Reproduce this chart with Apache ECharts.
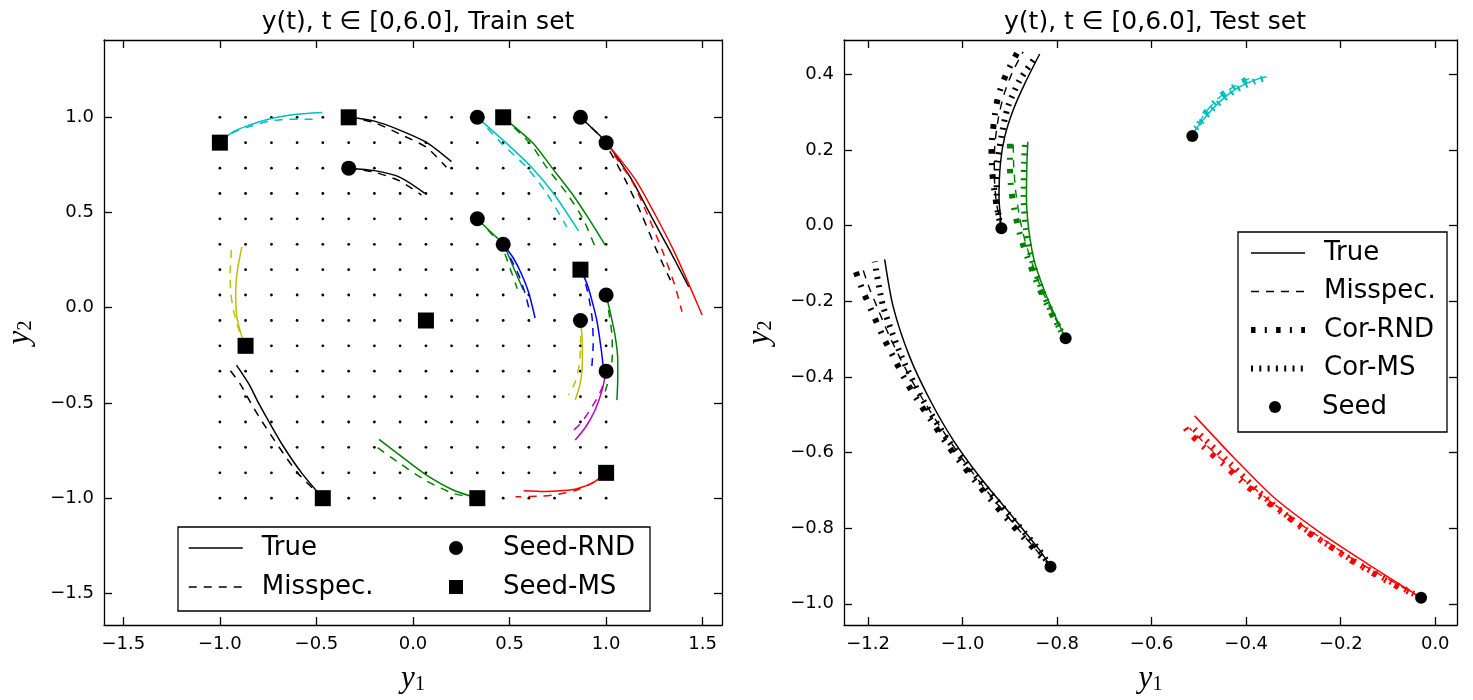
<!DOCTYPE html>
<html><head><meta charset="utf-8">
<script src="https://cdn.jsdelivr.net/npm/echarts@6/dist/echarts.min.js"></script>
<style>html,body{margin:0;padding:0;background:#fff}#c{width:1473px;height:700px}</style>
</head><body><div id="c"></div>
<script>
// ---------------- DATA ----------------
const titles = ['y(t), t \u2208 [0,6.0], Train set', 'y(t), t \u2208 [0,6.0], Test set'];
const trainXTicks = [-1.5, -1.0, -0.5, 0.0, 0.5, 1.0, 1.5];
const trainYTicks = [-1.5, -1.0, -0.5, 0.0, 0.5, 1.0];
const testXTicks = [-1.2, -1.0, -0.8, -0.6, -0.4, -0.2, 0.0];
const testYTicks = [-1.0, -0.8, -0.6, -0.4, -0.2, 0.0, 0.2, 0.4];

// training grid (16 x 16)
const gridVals = [-1.0, -0.867, -0.733, -0.6, -0.467, -0.333, -0.2, -0.067, 0.067, 0.2, 0.333, 0.467, 0.6, 0.733, 0.867, 1.0];

// training seeds
const seedRND = [[0.333,1.0],[0.867,1.0],[1.0,0.867],[-0.333,0.733],[0.333,0.467],[0.467,0.333],[1.0,0.067],[0.867,-0.067],[1.0,-0.333]];
const seedMS = [[-1.0,0.867],[-0.333,1.0],[0.467,1.0],[0.867,0.2],[0.067,-0.067],[-0.867,-0.2],[-0.467,-1.0],[0.333,-1.0],[1.0,-0.867]];

// training trajectories: true (solid) / misspecified (dashed)
const trA_true = [[-1.0,0.867],[-0.93,0.925],[-0.85,0.958],[-0.75,0.99],[-0.65,1.01],[-0.55,1.02],[-0.47,1.025]];
const trA_mis  = [[-1.0,0.867],[-0.93,0.92],[-0.85,0.95],[-0.75,0.978],[-0.65,0.99],[-0.52,0.99]];
const trB_true = [[-0.333,1.0],[-0.2,0.98],[-0.069,0.933],[0.07,0.868],[0.199,0.767]];
const trB_mis  = [[-0.333,1.0],[-0.2,0.972],[-0.069,0.912],[0.07,0.842],[0.173,0.738]];
const trC_true = [[-0.333,0.733],[-0.2,0.72],[-0.069,0.686],[0.061,0.601]];
const trC_mis  = [[-0.333,0.733],[-0.2,0.712],[-0.069,0.666],[0.044,0.592]];
const trD_true = [[0.333,1.0],[0.485,0.863],[0.615,0.737],[0.727,0.601],[0.857,0.404]];
const trD_mis  = [[0.333,1.0],[0.459,0.863],[0.589,0.737],[0.692,0.601],[0.796,0.425]];
const trE_true = [[0.467,1.0],[0.623,0.863],[0.718,0.737],[0.822,0.601],[0.909,0.469],[0.995,0.329]];
const trE_mis  = [[0.467,1.0],[0.606,0.863],[0.692,0.737],[0.796,0.601],[0.879,0.469],[0.943,0.32]];
const trF_true = [[0.867,1.0],[0.93,0.94],[1.0,0.87],[1.07,0.77],[1.14,0.66],[1.23,0.487],[1.33,0.3],[1.428,0.11]];
const trF_mis  = [[0.867,1.0],[0.95,0.92],[1.02,0.82],[1.1,0.67],[1.185,0.487],[1.262,0.3],[1.333,0.145]];
const trG_true = [[1.0,0.867],[1.08,0.77],[1.16,0.66],[1.255,0.487],[1.35,0.3],[1.43,0.12],[1.497,-0.038]];
const trG_mis  = [[1.0,0.867],[1.06,0.775],[1.135,0.664],[1.215,0.487],[1.29,0.303],[1.355,0.12],[1.393,-0.021]];
const trH_true = [[0.333,0.467],[0.4,0.4],[0.467,0.333],[0.519,0.215],[0.571,0.093]];
const trH_mis  = [[0.333,0.467],[0.4,0.395],[0.46,0.32],[0.5,0.215],[0.54,0.1]];
const trI_true = [[0.467,0.333],[0.52,0.26],[0.56,0.181],[0.6,0.076],[0.632,-0.054]];
const trI_mis  = [[0.467,0.333],[0.51,0.25],[0.548,0.17],[0.582,0.07],[0.606,-0.028]];
const trJ_true = [[0.867,0.2],[0.9,0.128],[0.926,0.04],[0.952,-0.068],[0.975,-0.222],[0.987,-0.33]];
const trJ_mis  = [[0.867,0.2],[0.895,0.12],[0.915,0.03],[0.929,-0.068],[0.933,-0.19],[0.926,-0.31]];
const trK_true = [[1.0,0.067],[1.025,-0.04],[1.047,-0.15],[1.06,-0.27],[1.06,-0.38],[1.056,-0.485]];
const trK_mis  = [[1.0,0.067],[1.015,-0.03],[1.03,-0.14],[1.032,-0.25],[1.02,-0.35],[0.995,-0.44]];
const trL_true = [[0.867,-0.067],[0.875,-0.15],[0.877,-0.29],[0.865,-0.4],[0.84,-0.485]];
const trL_mis  = [[0.867,-0.067],[0.868,-0.15],[0.862,-0.29],[0.84,-0.39],[0.805,-0.458]];
const trM_true = [[1.0,-0.333],[0.98,-0.43],[0.943,-0.537],[0.895,-0.625],[0.84,-0.695]];
const trM_mis  = [[1.0,-0.333],[0.975,-0.43],[0.917,-0.537],[0.865,-0.61],[0.805,-0.668]];
const trN_true = [[-0.867,-0.2],[-0.89,-0.14],[-0.912,-0.047],[-0.918,0.076],[-0.909,0.198],[-0.886,0.32]];
const trN_mis  = [[-0.867,-0.2],[-0.9,-0.12],[-0.928,-0.02],[-0.943,0.076],[-0.947,0.18],[-0.94,0.307]];
const trO_true = [[-0.467,-1.0],[-0.575,-0.87],[-0.67,-0.73],[-0.745,-0.6],[-0.8,-0.5],[-0.85,-0.4],[-0.914,-0.301]];
const trO_mis  = [[-0.467,-1.0],[-0.595,-0.87],[-0.695,-0.73],[-0.78,-0.6],[-0.84,-0.5],[-0.895,-0.4],[-0.955,-0.318]];
const trP_true = [[0.333,-1.0],[0.208,-0.957],[0.07,-0.879],[-0.069,-0.774],[-0.176,-0.691]];
const trP_mis  = [[0.333,-1.0],[0.208,-0.975],[0.07,-0.909],[-0.069,-0.817],[-0.19,-0.73]];
const trQ_true = [[1.0,-0.867],[0.93,-0.92],[0.85,-0.95],[0.78,-0.96],[0.68,-0.965],[0.573,-0.961]];
const trQ_mis  = [[1.0,-0.867],[0.92,-0.925],[0.84,-0.96],[0.75,-0.98],[0.65,-0.99],[0.531,-0.993]];

// test seeds
const testSeeds = [[-0.918,-0.007],[-0.782,-0.298],[-0.814,-0.902],[-0.514,0.237],[-0.03,-0.984]];

// test trajectories: true / misspec / corrected-RND / corrected-MS
const t1_true = [[-0.918,-0.007],[-0.923,0.077],[-0.92,0.165],[-0.911,0.235],[-0.893,0.306],[-0.868,0.377],[-0.837,0.454]];
const t1_mis  = [[-0.918,-0.007],[-0.929,0.065],[-0.933,0.14],[-0.932,0.21],[-0.925,0.28],[-0.913,0.345],[-0.895,0.405],[-0.872,0.46]];
const t1_rnd  = [[-0.918,-0.007],[-0.93,0.068],[-0.937,0.137],[-0.939,0.205],[-0.934,0.272],[-0.925,0.341],[-0.907,0.403],[-0.881,0.465]];
const t1_ms   = [[-0.918,-0.007],[-0.928,0.059],[-0.928,0.147],[-0.918,0.235],[-0.904,0.315],[-0.879,0.385],[-0.844,0.449]];

const t2_true = [[-0.782,-0.298],[-0.794,-0.267],[-0.822,-0.188],[-0.847,-0.1],[-0.86,-0.011],[-0.865,0.077],[-0.864,0.165],[-0.862,0.222]];
const t2_mis  = [[-0.782,-0.298],[-0.81,-0.23],[-0.833,-0.168],[-0.851,-0.107],[-0.868,-0.04],[-0.88,0.026],[-0.888,0.094],[-0.892,0.161],[-0.893,0.225]];
const t2_rnd  = [[-0.782,-0.298],[-0.813,-0.23],[-0.837,-0.168],[-0.856,-0.107],[-0.875,-0.04],[-0.888,0.026],[-0.897,0.094],[-0.9,0.161],[-0.9,0.231]];
const t2_ms   = [[-0.782,-0.298],[-0.798,-0.265],[-0.827,-0.186],[-0.852,-0.098],[-0.866,-0.01],[-0.871,0.077],[-0.87,0.165],[-0.868,0.222]];

const t3_true = [[-0.814,-0.902],[-0.837,-0.858],[-0.9,-0.761],[-0.964,-0.664],[-1.02,-0.567],[-1.069,-0.461],[-1.112,-0.347],[-1.147,-0.214],[-1.165,-0.089]];
const t3_mis  = [[-0.814,-0.902],[-0.853,-0.845],[-0.888,-0.794],[-0.922,-0.743],[-0.956,-0.69],[-0.988,-0.638],[-1.02,-0.582],[-1.05,-0.527],[-1.079,-0.47],[-1.106,-0.413],[-1.132,-0.351],[-1.156,-0.289],[-1.177,-0.227],[-1.197,-0.166],[-1.215,-0.101]];
const t3_rnd  = [[-0.814,-0.902],[-0.856,-0.845],[-0.893,-0.794],[-0.928,-0.743],[-0.964,-0.69],[-0.997,-0.638],[-1.031,-0.582],[-1.06,-0.527],[-1.091,-0.47],[-1.119,-0.413],[-1.145,-0.351],[-1.17,-0.289],[-1.192,-0.227],[-1.213,-0.166],[-1.232,-0.101]];
const t3_ms   = [[-0.814,-0.902],[-0.838,-0.858],[-0.904,-0.761],[-0.971,-0.664],[-1.031,-0.567],[-1.084,-0.461],[-1.129,-0.347],[-1.168,-0.214],[-1.186,-0.095]];

const t4_true = [[-0.514,0.237],[-0.505,0.258],[-0.463,0.319],[-0.42,0.363],[-0.378,0.387],[-0.357,0.394]];
const t4_mis  = [[-0.514,0.237],[-0.486,0.3],[-0.447,0.35],[-0.405,0.383],[-0.385,0.393]];
const t4_rnd  = [[-0.514,0.237],[-0.484,0.302],[-0.445,0.352],[-0.399,0.387],[-0.385,0.396]];
const t4_ms   = [[-0.514,0.237],[-0.507,0.256],[-0.466,0.315],[-0.423,0.358],[-0.38,0.383],[-0.36,0.39]];

const t5_true = [[-0.03,-0.984],[-0.039,-0.977],[-0.145,-0.893],[-0.251,-0.805],[-0.343,-0.717],[-0.428,-0.611],[-0.509,-0.503]];
const t5_mis  = [[-0.03,-0.984],[-0.085,-0.945],[-0.135,-0.91],[-0.183,-0.875],[-0.228,-0.837],[-0.273,-0.8],[-0.316,-0.76],[-0.36,-0.718],[-0.402,-0.675],[-0.442,-0.63],[-0.482,-0.583],[-0.52,-0.535]];
const t5_rnd  = [[-0.03,-0.984],[-0.085,-0.951],[-0.133,-0.918],[-0.181,-0.883],[-0.226,-0.845],[-0.271,-0.81],[-0.314,-0.768],[-0.359,-0.728],[-0.401,-0.686],[-0.441,-0.639],[-0.483,-0.593],[-0.523,-0.545],[-0.53,-0.532]];
const t5_ms   = [[-0.03,-0.984],[-0.152,-0.902],[-0.258,-0.818],[-0.35,-0.73],[-0.434,-0.629],[-0.519,-0.527]];

// ---------------- STYLES ----------------
const C = {k:'#000000', c:'#00bfbf', g:'#008000', r:'#ff0000', b:'#0000ff', m:'#bf00bf', y:'#bfbf00'};
const trainSet = [
  [trA_true, trA_mis, C.c], [trB_true, trB_mis, C.k], [trC_true, trC_mis, C.k],
  [trD_true, trD_mis, C.c], [trE_true, trE_mis, C.g], [trF_true, trF_mis, C.k],
  [trG_true, trG_mis, C.r], [trH_true, trH_mis, C.g], [trI_true, trI_mis, C.b],
  [trJ_true, trJ_mis, C.b], [trK_true, trK_mis, C.g], [trL_true, trL_mis, C.y],
  [trM_true, trM_mis, C.m], [trN_true, trN_mis, C.y], [trO_true, trO_mis, C.k],
  [trP_true, trP_mis, C.g], [trQ_true, trQ_mis, C.r]
];
const testSet = [
  [t1_true, t1_mis, t1_rnd, t1_ms, C.k], [t2_true, t2_mis, t2_rnd, t2_ms, C.g],
  [t3_true, t3_mis, t3_rnd, t3_ms, C.k], [t4_true, t4_mis, t4_rnd, t4_ms, C.c],
  [t5_true, t5_mis, t5_rnd, t5_ms, C.r]
];
const DASH = [8, 7];
const RNDDASH = [4.5, 9.3, 2, 9.3];
const MSDASH = [2, 6.3];
const FONT = 'DejaVu Sans';
const CLEAR = 'rgba(0,0,0,0)';

function lineSeries(name, data, color, width, type, ax, z) {
  return {
    name: name, type: 'line', data: data, xAxisIndex: ax, yAxisIndex: ax,
    symbol: 'none', showSymbol: false, smooth: 0.25, silent: true, z: z || 2,
    lineStyle: {color: color, width: width, type: type, cap: 'butt', join: 'round'},
    itemStyle: {color: CLEAR}, emphasis: {disabled: true}
  };
}

const series = [];
// grid dots
const gridPts = [];
gridVals.forEach(function (gx) { gridVals.forEach(function (gy) { gridPts.push([gx, gy]); }); });
series.push({type: 'scatter', name: 'grid', data: gridPts, xAxisIndex: 0, yAxisIndex: 0,
  symbol: 'circle', symbolSize: 2.8, itemStyle: {color: '#000', opacity: 1}, silent: true, z: 1});

trainSet.forEach(function (t, i) {
  series.push(lineSeries('tr_true_' + i, t[0], t[2], 1.5, 'solid', 0, 2));
  series.push(lineSeries('tr_mis_' + i, t[1], t[2], 1.5, DASH, 0, 2));
});
testSet.forEach(function (t, i) {
  series.push(lineSeries('te_true_' + i, t[0], t[4], 1.5, 'solid', 1, 2));
  series.push(lineSeries('te_mis_' + i, t[1], t[4], 1.4, DASH, 1, 2));
  series.push(lineSeries('te_rnd_' + i, t[2], t[4], 6, RNDDASH, 1, 2));
  series.push(lineSeries('te_ms_' + i, t[3], t[4], 6, MSDASH, 1, 2));
});

// legend dummies (line samples only)
series.push(lineSeries('True', [], '#000', 1.5, 'solid', 0, 0));
series.push(lineSeries('Misspec.', [], '#000', 1.5, DASH, 0, 0));
series.push(lineSeries('Cor-RND', [], '#000', 6, RNDDASH, 1, 0));
series.push(lineSeries('Cor-MS', [], '#000', 6, MSDASH, 1, 0));

// seeds
series.push({type: 'scatter', name: 'Seed-RND', data: seedRND, xAxisIndex: 0, yAxisIndex: 0,
  symbol: 'circle', symbolSize: 15, itemStyle: {color: '#000', opacity: 1}, silent: true, z: 5});
series.push({type: 'scatter', name: 'Seed-MS', data: seedMS, xAxisIndex: 0, yAxisIndex: 0,
  symbol: 'rect', symbolSize: 16, itemStyle: {color: '#000', opacity: 1}, silent: true, z: 5});
series.push({type: 'scatter', name: 'Seed', data: testSeeds, xAxisIndex: 1, yAxisIndex: 1,
  symbol: 'circle', symbolSize: 12, itemStyle: {color: '#000', opacity: 1}, silent: true, z: 5});

function fmt(v) {
  const s = Math.abs(v).toFixed(1);
  return (v < -1e-9 ? '\u2212' : '') + s;
}
const AXC = {color: '#000', width: 1.3};
function mkAxis(grid, pos, min, max, ticks, showLabel, name, nameGap) {
  const a = {
    type: 'value', gridIndex: grid, position: pos, min: min, max: max,
    axisLine: {show: true, onZero: false, lineStyle: AXC},
    axisTick: {show: true, inside: true, length: 8, customValues: ticks, lineStyle: AXC},
    axisLabel: {show: showLabel, customValues: ticks, formatter: fmt, fontSize: 18,
      fontFamily: FONT, color: '#000', margin: 10},
    splitLine: {show: false}
  };
  if (name) {
    a.name = name;
    a.nameLocation = 'middle';
    a.nameGap = nameGap;
    a.nameTextStyle = {rich: {
      v: {fontFamily: 'Liberation Serif', fontStyle: 'italic', fontSize: 31, color: '#000'},
      s: {fontFamily: 'Liberation Serif', fontSize: 20, color: '#000', padding: [12, 0, 0, 0]}
    }};
  }
  return a;
}

function legendText(padLeft) {
  return {fontFamily: FONT, fontSize: 26, color: '#000', lineHeight: 26, padding: [0, 0, 0, padLeft]};
}
const squareIcon = 'path://M0,0L10,0L10,10L0,10Z';
const LEG_LINE = {width: 'inherit'};

const option = {
  animation: false,
  backgroundColor: '#fff',
  title: [
    {text: titles[0], left: 413, top: 5, textAlign: 'center',
     textStyle: {fontFamily: FONT, fontSize: 25, fontWeight: 'normal', color: '#000'}},
    {text: titles[1], left: 1150, top: 5, textAlign: 'center',
     textStyle: {fontFamily: FONT, fontSize: 25, fontWeight: 'normal', color: '#000'}}
  ],
  grid: [
    {left: 104, top: 40, width: 618, height: 585},
    {left: 844, top: 40, width: 613, height: 585}
  ],
  xAxis: [
    mkAxis(0, 'bottom', -1.6, 1.6, trainXTicks, true, '{v|y}{s|1}', 38),
    mkAxis(1, 'bottom', -1.251, 0.046, testXTicks, true, '{v|y}{s|1}', 38),
    mkAxis(0, 'top', -1.6, 1.6, trainXTicks, false),
    mkAxis(1, 'top', -1.251, 0.046, testXTicks, false)
  ],
  yAxis: [
    mkAxis(0, 'left', -1.666, 1.406, trainYTicks, true, '{v|y}{s|2}', 68),
    mkAxis(1, 'left', -1.056, 0.491, testYTicks, true, '{v|y}{s|2}', 68),
    mkAxis(0, 'right', -1.666, 1.406, trainYTicks, false),
    mkAxis(1, 'right', -1.056, 0.491, testYTicks, false)
  ],
  graphic: [
    {type: 'rect', shape: {x: 178, y: 527, width: 472, height: 84}, z: 3,
     style: {fill: '#fff', stroke: '#000', lineWidth: 1.3}, silent: true},
    {type: 'rect', shape: {x: 1238, y: 232, width: 209, height: 200}, z: 3,
     style: {fill: '#fff', stroke: '#000', lineWidth: 1.3}, silent: true}
  ],
  legend: [
    {data: ['True', 'Misspec.'], orient: 'vertical', left: 188, top: 535, itemWidth: 54, itemHeight: 14,
     itemGap: 13, selectedMode: false, padding: 0, z: 6, textStyle: legendText(14), lineStyle: LEG_LINE},
    {data: [{name: 'Seed-RND', icon: 'circle'}, {name: 'Seed-MS', icon: squareIcon}],
     orient: 'vertical', left: 449, top: 535, itemWidth: 14, itemHeight: 14,
     itemGap: 13, selectedMode: false, padding: 0, z: 6, textStyle: legendText(35)},
    {data: ['True', 'Misspec.', 'Cor-RND', 'Cor-MS'],
     orient: 'vertical', left: 1248, top: 240, itemWidth: 54, itemHeight: 12, itemGap: 12.5,
     selectedMode: false, padding: 0, z: 6, textStyle: legendText(14), lineStyle: LEG_LINE},
    {data: [{name: 'Seed', icon: 'circle'}],
     orient: 'vertical', left: 1269, top: 394, itemWidth: 12, itemHeight: 12,
     selectedMode: false, padding: 0, z: 6, textStyle: legendText(36)}
  ],
  series: series
};

const chart = echarts.init(document.getElementById('c'), null, {renderer: 'canvas'});
chart.setOption(option);
</script></body></html>
